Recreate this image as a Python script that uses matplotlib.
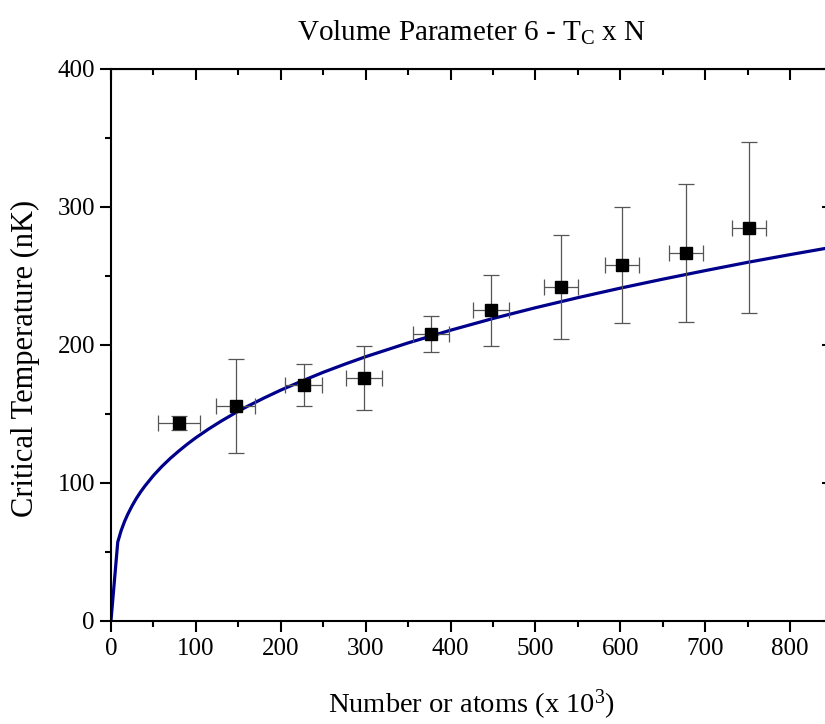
import matplotlib.pyplot as plt
from matplotlib.ticker import MultipleLocator

plt.rcParams['font.family'] = 'Liberation Serif'
plt.rcParams['mathtext.fontset'] = 'custom'
plt.rcParams['mathtext.rm'] = 'Liberation Serif'
plt.rcParams['mathtext.it'] = 'Liberation Serif:italic'

# measured points (N in units of 10^3, Tc in nK)
atoms = [80, 147, 227, 298, 377, 448, 530, 602, 677, 751]
atoms_err = [25, 23, 22, 21, 21, 21, 20, 20, 20, 20]
temp = [143.5, 155.5, 171, 176, 208, 225, 242, 258, 267, 285]
temp_err = [5, 34, 15, 23, 13, 26, 38, 42, 50, 62]

# fitted curve
fit_n = [0, 8, 12, 16, 20, 25, 30, 35, 40, 50, 60, 70, 80, 90, 100, 115, 130,
         145, 160, 180, 200, 225, 250, 275, 300, 350, 400, 450, 500, 550, 600,
         650, 700, 750, 800, 850]
fit_t = [0, 57.2, 65.5, 72.1, 77.6, 83.6, 88.9, 93.6, 97.8, 105.4, 112.0,
         117.9, 123.2, 128.2, 132.8, 139.1, 144.9, 150.3, 155.3, 161.5, 167.3,
         173.9, 180.2, 186.0, 191.5, 201.5, 210.7, 219.2, 227.0, 234.3, 241.2,
         247.7, 253.9, 259.9, 265.5, 270.9]

fig = plt.figure(figsize=(8.25, 7.24), dpi=100)
# right edge of the frame sits just outside the picture, as in the original
ax = fig.add_axes([0.1345, 0.1423, 0.8747, 0.7624])

ax.plot(fit_n, fit_t, color='#00008b', lw=2.3, zorder=2)
ax.errorbar(atoms, temp, xerr=atoms_err, yerr=temp_err, fmt='s',
            color='black', ms=8.5, ecolor='#555555', elinewidth=0.9,
            capsize=5.5, capthick=0.9, zorder=3)

ax.set_xlim(0, 850)
ax.set_ylim(0, 400)
ax.xaxis.set_major_locator(MultipleLocator(100))
ax.xaxis.set_minor_locator(MultipleLocator(50))
ax.yaxis.set_major_locator(MultipleLocator(100))
ax.yaxis.set_minor_locator(MultipleLocator(50))

for s in ax.spines.values():
    s.set_linewidth(1.5)

ax.tick_params(which='both', direction='out', width=1.5, labelsize=18)
ax.tick_params(which='major', length=8)
ax.tick_params(which='minor', length=4.5)
ax.tick_params(axis='x', pad=4)

# inward ticks on the top and right sides
top = ax.secondary_xaxis('top')
top.xaxis.set_major_locator(MultipleLocator(100))
top.xaxis.set_minor_locator(MultipleLocator(50))
top.tick_params(which='both', direction='in', width=1.5, labeltop=False)
top.tick_params(which='major', length=8)
top.tick_params(which='minor', length=4.5)
right = ax.secondary_yaxis('right')
right.yaxis.set_major_locator(MultipleLocator(100))
right.yaxis.set_minor_locator(MultipleLocator(50))
right.tick_params(which='both', direction='in', width=1.5, labelright=False)
right.tick_params(which='major', length=8)
right.tick_params(which='minor', length=4.5)

ax.set_xlabel('Number or atoms (x 10$^3$)', fontsize=20.5, labelpad=20)
ax.set_ylabel('Critical Temperature (nK)', fontsize=22)
ax.yaxis.set_label_coords(-0.098, 0.475)
ax.set_title(r'Volume Parameter 6 - T$_{\mathrm{C}}$ x N', fontsize=21, pad=20)

fig.savefig('out.png', dpi=100)
